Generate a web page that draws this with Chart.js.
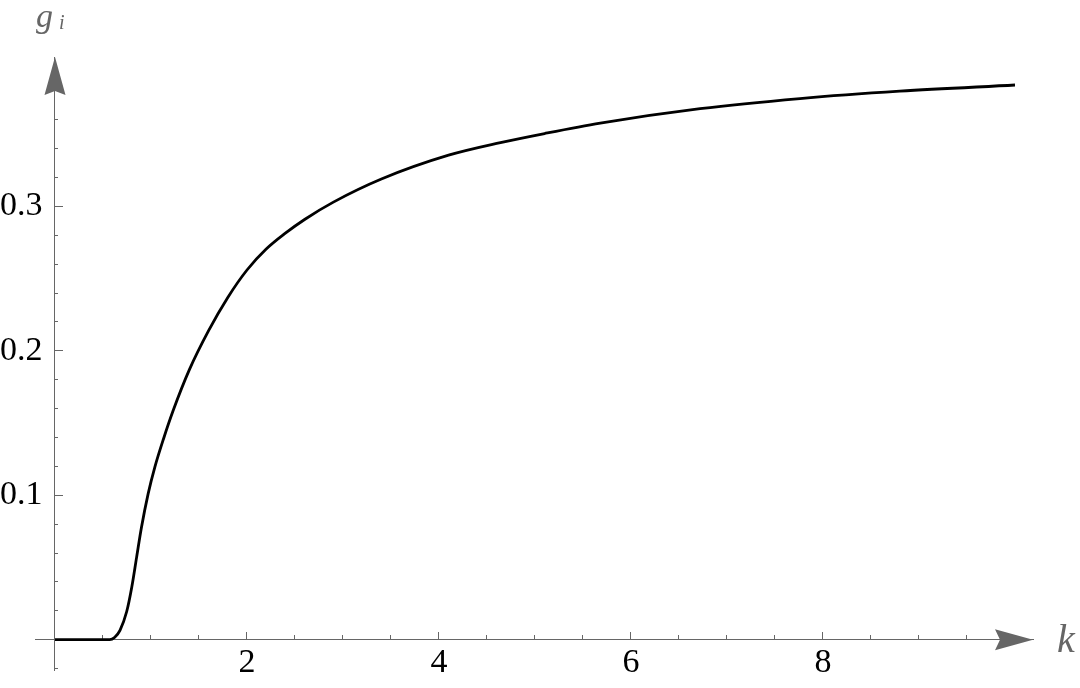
<!DOCTYPE html>
<html lang="en">
<head>
    <meta charset="UTF-8">
    <title>g_i versus k</title>
    <style>
        html, body { margin: 0; padding: 0; background: #fff; }
        .chart-container { width: 1080px; height: 688px; }
    </style>
</head>
<body>
    <div class="chart-container">
        <canvas id="myChart" width="1080" height="688"></canvas>
    </div>

    <script src="https://cdn.jsdelivr.net/npm/chart.js"></script>
    <script>
        // curve
        const kValues = [0, 0.25, 0.5, 0.57, 0.62, 0.677, 0.747, 0.8, 0.85, 0.9, 0.97, 1.04, 1.13, 1.23, 1.4, 1.6, 1.8, 2.0, 2.2, 2.4, 2.6, 2.9, 3.4, 4.1, 4.64, 5.1, 5.68, 6.72, 7.76, 8.8, 10];
        const gValues = [0, 0, 0, 0, 0.0015, 0.0065, 0.0195, 0.0365, 0.057, 0.0775, 0.101, 0.1195, 0.139, 0.1585, 0.187, 0.214, 0.237, 0.256, 0.2705, 0.2815, 0.291, 0.303, 0.319, 0.3355, 0.3442, 0.3505, 0.3577, 0.3677, 0.3747, 0.3798, 0.3841];

        // tick marks and labels
        const xMajorTicks = [2, 4, 6, 8];
        const xMinorTicks = [0.5, 1, 1.5, 2.5, 3, 3.5, 4.5, 5, 5.5, 6.5, 7, 7.5, 8.5, 9, 9.5];
        const yMajorTicks = [0.1, 0.2, 0.3];
        const yMinorTicks = [-0.02, 0.02, 0.04, 0.06, 0.08, 0.12, 0.14, 0.16, 0.18, 0.22, 0.24, 0.26, 0.28, 0.32, 0.34, 0.36];

        const xMin = -0.2083, xMax = 10.1875;
        const yMin = -0.021, yMax = 0.4035;

        const axisGray = '#666666';
        const serif = '"Liberation Serif", "Times New Roman", serif';

        function setTicks(list) {
            return scale => { scale.ticks = list.map(v => ({ value: v })); };
        }
        function noSpace(scale) {
            if (scale.isHorizontal()) scale.height = 0; else scale.width = 0;
            scale.paddingLeft = scale.paddingRight = scale.paddingTop = scale.paddingBottom = 0;
        }

        // arrow heads and the two axis names
        const axisArrows = {
            id: 'axisArrows',
            afterDraw(chart) {
                const { ctx, scales: { x, y } } = chart;
                const x0 = x.getPixelForValue(0);
                const y0 = y.getPixelForValue(0);
                ctx.save();
                ctx.fillStyle = axisGray;

                const tx = x.right;
                ctx.beginPath();
                ctx.moveTo(tx, y0);
                ctx.lineTo(tx - 38, y0 - 10.5);
                ctx.lineTo(tx - 33, y0);
                ctx.lineTo(tx - 38, y0 + 10.5);
                ctx.closePath();
                ctx.fill();

                const ty = y.top;
                ctx.beginPath();
                ctx.moveTo(x0, ty);
                ctx.lineTo(x0 - 10.5, ty + 38);
                ctx.lineTo(x0, ty + 34);
                ctx.lineTo(x0 + 10.5, ty + 38);
                ctx.closePath();
                ctx.fill();

                ctx.textBaseline = 'alphabetic';
                ctx.textAlign = 'left';
                ctx.font = 'italic 40px ' + serif;
                ctx.fillText('k', tx + 24, y0 + 12);
                ctx.font = 'italic 34px ' + serif;
                ctx.fillText('g', x0 - 19, 27);
                ctx.font = 'italic 20px ' + serif;
                ctx.fillText('i', x0 + 4, 29);
                ctx.restore();
            }
        };

        const ctx = document.getElementById('myChart').getContext('2d');
        const chart = new Chart(ctx, {
            type: 'line',
            data: {
                datasets: [{
                    label: 'g_i',
                    data: kValues.map((k, i) => ({ x: k, y: gValues[i] })),
                    borderColor: '#000000',
                    borderWidth: 2.8,
                    pointRadius: 0,
                    fill: false,
                    cubicInterpolationMode: 'monotone',
                    xAxisID: 'x',
                    yAxisID: 'y'
                }]
            },
            options: {
                responsive: false,
                animation: false,
                devicePixelRatio: 1,
                layout: { padding: { left: 35, right: 47, top: 57, bottom: 18 } },
                plugins: { legend: { display: false }, tooltip: { enabled: false } },
                scales: {
                    x: {
                        type: 'linear', axis: 'x', min: xMin, max: xMax,
                        position: { y: 0 },
                        afterBuildTicks: setTicks(xMinorTicks),
                        afterFit: noSpace,
                        border: { display: true, color: axisGray, width: 1 },
                        grid: { drawOnChartArea: false, drawTicks: true, tickLength: -5, tickColor: axisGray, tickWidth: 1 },
                        ticks: { display: false }
                    },
                    xMajor: {
                        type: 'linear', axis: 'x', min: xMin, max: xMax,
                        position: { y: 0 },
                        afterBuildTicks: setTicks(xMajorTicks),
                        afterFit: noSpace,
                        border: { display: false },
                        grid: { drawOnChartArea: false, drawTicks: true, tickLength: -8, tickColor: axisGray, tickWidth: 1 },
                        ticks: {
                            autoSkip: false, maxRotation: 0, padding: 11, color: '#000000',
                            font: { family: serif, size: 34 },
                            callback: v => String(v)
                        }
                    },
                    y: {
                        type: 'linear', axis: 'y', min: yMin, max: yMax,
                        position: { x: 0 },
                        afterBuildTicks: setTicks(yMinorTicks),
                        afterFit: noSpace,
                        border: { display: true, color: axisGray, width: 1 },
                        grid: { drawOnChartArea: false, drawTicks: true, tickLength: -4, tickColor: axisGray, tickWidth: 1 },
                        ticks: { display: false }
                    },
                    yMajor: {
                        type: 'linear', axis: 'y', min: yMin, max: yMax,
                        position: { x: 0 },
                        afterBuildTicks: setTicks(yMajorTicks),
                        afterFit: noSpace,
                        border: { display: false },
                        grid: { drawOnChartArea: false, drawTicks: true, tickLength: -8, tickColor: axisGray, tickWidth: 1 },
                        ticks: { display: false }
                    },
                    yLab: {
                        type: 'linear', axis: 'y', min: yMin, max: yMax,
                        position: 'left',
                        afterBuildTicks: setTicks(yMajorTicks),
                        afterFit: noSpace,
                        border: { display: false },
                        grid: { display: false, drawTicks: false },
                        ticks: {
                            autoSkip: false, mirror: true, crossAlign: 'near', padding: -35, color: '#000000',
                            font: { family: serif, size: 34 },
                            callback: v => String(v)
                        }
                    }
                }
            },
            plugins: [axisArrows]
        });
    </script>
</body>
</html>
